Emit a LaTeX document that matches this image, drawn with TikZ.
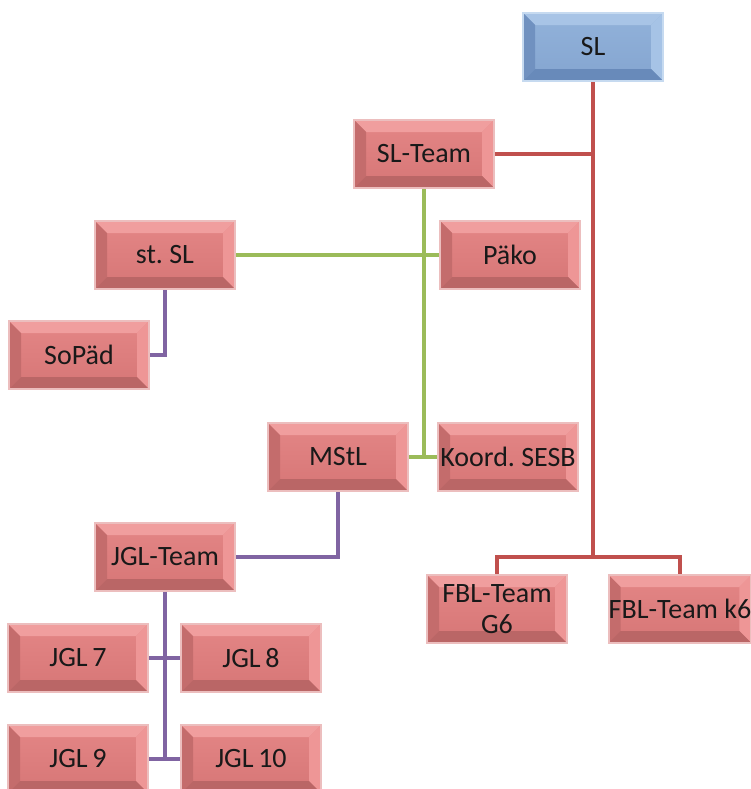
\documentclass[tikz,border=0pt]{standalone}
\usepackage{fontspec}
\setmainfont{Carlito}
\usetikzlibrary{backgrounds}
\definecolor{redface}{RGB}{228,134,134}
\definecolor{redfacelow}{RGB}{214,118,118}
\definecolor{redtop}{RGB}{240,158,158}
\definecolor{redleft}{RGB}{196,108,108}
\definecolor{redright}{RGB}{238,150,150}
\definecolor{redbottom}{RGB}{186,102,102}
\definecolor{rededge}{RGB}{236,190,190}
\definecolor{blueface}{RGB}{146,178,218}
\definecolor{bluefacelow}{RGB}{132,165,208}
\definecolor{bluetop}{RGB}{168,196,230}
\definecolor{blueleft}{RGB}{112,145,192}
\definecolor{blueright}{RGB}{166,195,230}
\definecolor{bluebottom}{RGB}{104,138,186}
\definecolor{blueedge}{RGB}{198,218,240}
\definecolor{linered}{RGB}{192,80,77}
\definecolor{linegreen}{RGB}{155,187,89}
\definecolor{linepurple}{RGB}{128,100,162}
\tikzset{
  bevelbox/.style={rectangle, minimum width=105pt, minimum height=51pt, inner sep=0pt,
    font=\fontsize{21}{23}\selectfont, align=center, text=black!90,
    draw=#1edge, line width=1.2pt,
    path picture={
      \shade[top color=#1face, bottom color=#1facelow] (path picture bounding box.north west) rectangle (path picture bounding box.south east);
      \fill[#1top] (path picture bounding box.north west) -- (path picture bounding box.north east) -- ([xshift=-9pt,yshift=-9pt]path picture bounding box.north east) -- ([xshift=9pt,yshift=-9pt]path picture bounding box.north west) -- cycle;
      \fill[#1left] (path picture bounding box.north west) -- ([xshift=9pt,yshift=-9pt]path picture bounding box.north west) -- ([xshift=9pt,yshift=9pt]path picture bounding box.south west) -- (path picture bounding box.south west) -- cycle;
      \fill[#1right] (path picture bounding box.north east) -- ([xshift=-9pt,yshift=-9pt]path picture bounding box.north east) -- ([xshift=-9pt,yshift=9pt]path picture bounding box.south east) -- (path picture bounding box.south east) -- cycle;
      \fill[#1bottom] (path picture bounding box.south west) -- ([xshift=9pt,yshift=9pt]path picture bounding box.south west) -- ([xshift=-9pt,yshift=9pt]path picture bounding box.south east) -- (path picture bounding box.south east) -- cycle;
    }},
  redbox/.style={bevelbox=red},
  bluebox/.style={bevelbox=blue},
  redlink/.style={draw=linered, line width=3pt},
  greenlink/.style={draw=linegreen, line width=3pt},
  purplelink/.style={draw=linepurple, line width=3pt},
}

\begin{document}
\begin{tikzpicture}[x=0.75pt,y=-0.75pt]
\useasboundingbox (0,0) rectangle (750,789);

%Boxes
\node[bluebox] (sl) at (593,47) {SL};
\node[redbox] (slteam) at (424,154) {SL-Team};
\node[redbox] (stsl) at (165,255) {st.\ SL};
\node[redbox] (pako) at (510,255) {Päko};
\node[redbox] (sopad) at (79,355) {SoPäd};
\node[redbox] (mstl) at (338,457) {MStL};
\node[redbox] (koord) at (508,457) {Koord.\ SESB};
\node[redbox] (jglteam) at (165,557) {JGL-Team};
\node[redbox] (fblg) at (497,609) {FBL-Team\\G6};
\node[redbox] (fblk) at (680,609) {FBL-Team k6};
\node[redbox] (jgl7) at (78,658) {JGL\,7};
\node[redbox] (jgl8) at (251,658) {JGL\,8};
\node[redbox] (jgl9) at (78,759) {JGL\,9};
\node[redbox] (jgl10) at (251,759) {JGL\,10};
\coordinate (redfork) at (593,557);

\begin{scope}[on background layer]
\fill[white] (0,0) rectangle (750,789);
%Red lines
\draw[redlink] (sl.south) -- (redfork);
\draw[redlink] (slteam.east) -- (slteam.east -| redfork);
\draw[redlink] (fblg.north) -- (fblg.north |- redfork) -- (fblk.north |- redfork) -- (fblk.north);
%Green lines
\draw[greenlink] (slteam.south) |- (koord.west);
\draw[greenlink] (mstl.east) -- (koord.west);
\draw[greenlink] (stsl.east) -- (pako.west);
%Purple lines
\draw[purplelink] (stsl.south) |- (sopad.east);
\draw[purplelink] (mstl.south) |- (jglteam.east);
\draw[purplelink] (jglteam.south) -- (jglteam.south |- jgl9.east);
\draw[purplelink] (jgl7.east) -- (jgl8.west);
\draw[purplelink] (jgl9.east) -- (jgl10.west);
\end{scope}

\end{tikzpicture}
\end{document}
